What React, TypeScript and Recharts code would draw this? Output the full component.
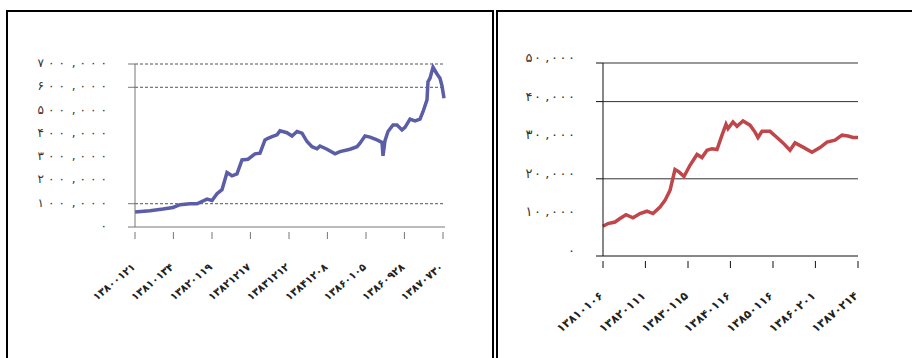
import React from "react";
import { LineChart, Line, XAxis, YAxis, ReferenceLine } from "recharts";

// left chart (blue)
const leftDays = [0, 75, 140, 190, 225, 275, 310, 360, 385, 410, 435, 460, 485, 510, 535, 565, 600, 625, 650, 665, 685, 710, 725, 760, 785, 810, 835, 860, 885, 910, 925, 960, 1000, 1025, 1075, 1110, 1125, 1150, 1175, 1210, 1235, 1240, 1250, 1265, 1290, 1310, 1335, 1350, 1375, 1400, 1425, 1440, 1460, 1465, 1475, 1490, 1510, 1525, 1535, 1545];
const leftValues = [64000, 70000, 77000, 84000, 96000, 100000, 100000, 120000, 114000, 143000, 160000, 234000, 220000, 228000, 288000, 291000, 314000, 317000, 374000, 381000, 388000, 396000, 413000, 405000, 391000, 410000, 403000, 367000, 345000, 336000, 348000, 334000, 314000, 324000, 334000, 345000, 360000, 391000, 386000, 374000, 363000, 306000, 371000, 410000, 438000, 438000, 417000, 428000, 463000, 456000, 463000, 495000, 546000, 624000, 639000, 686000, 657000, 639000, 606000, 553000];
const leftTickDays = [0, 192, 385, 577, 770, 962, 1155, 1347, 1540];
const leftTickLabels = ["۱۳۸۰۰۱۲۱", "۱۳۸۱۰۱۳۴", "۱۳۸۲۰۱۱۹", "۱۳۸۲۱۲۱۷", "۱۳۸۳۱۲۱۲", "۱۳۸۴۱۲۰۸", "۱۳۸۶۰۱۰۵", "۱۳۸۶۰۹۲۸", "۱۳۸۷۰۷۳۰"];
const leftYTicks = [0, 100000, 200000, 300000, 400000, 500000, 600000, 700000];
const leftGrid = [100000, 600000, 700000];

// right chart (red)
const rightDays = [0, 25, 60, 85, 115, 150, 185, 220, 250, 285, 310, 335, 360, 380, 405, 435, 470, 495, 520, 545, 570, 595, 615, 625, 650, 670, 700, 735, 760, 775, 795, 835, 870, 900, 935, 960, 1000, 1045, 1085, 1120, 1160, 1195, 1225, 1250, 1275];
const rightValues = [7700, 8400, 8800, 9700, 10700, 9900, 11000, 11600, 11000, 12700, 14400, 17000, 22400, 21800, 20600, 23500, 26300, 25500, 27400, 27800, 27600, 31300, 34100, 33000, 34700, 33600, 35000, 33900, 32100, 30700, 32300, 32300, 30700, 29300, 27400, 29300, 28200, 26900, 28100, 29500, 30000, 31300, 31100, 30700, 30700];
const rightTickDays = [0, 212, 425, 637, 850, 1062, 1275];
const rightTickLabels = ["۱۳۸۱۰۱۰۶", "۱۳۸۲۰۱۱۱", "۱۳۸۳۰۱۱۵", "۱۳۸۴۰۱۱۶", "۱۳۸۵۰۱۱۶", "۱۳۸۶۰۲۰۱", "۱۳۸۷۰۲۱۴"];
const rightYTicks = [0, 10000, 20000, 30000, 40000, 50000];
const rightGrid = [20000, 40000, 50000];

const FONT = "'DejaVu Sans', sans-serif";
const faDigits = "۰۱۲۳۴۵۶۷۸۹";

function faNum(n: number) {
  const s = n.toString().replace(/\B(?=(\d{3})+(?!\d))/g, ",");
  return s.replace(/\d/g, (d) => faDigits[Number(d)]);
}

// y labels are spread out in the original, so lay the characters out one by one
function makeYTick(grid: number[], color: string, fontSize: number, step: number, dy: number) {
  return (props: any) => {
    const { x, y, payload } = props;
    const v = payload.value;
    const showLine = v === 0 || grid.includes(v);
    const chars = faNum(v).split("");
    return (
      <g>
        {showLine && <line x1={x + 21} x2={x + 28} y1={y} y2={y} stroke={color} strokeWidth={1} />}
        {chars.map((c, k) => (
          <text key={k} x={x - (chars.length - 1 - k) * step} y={y} dy={dy} textAnchor="end"
            fontSize={fontSize} fill="#333" style={{ fontFamily: FONT }}>
            {c}
          </text>
        ))}
      </g>
    );
  };
}

function makeXTick(days: number[], labels: string[], color: string, fontSize: number) {
  return (props: any) => {
    const { x, y, payload } = props;
    const i = days.indexOf(payload.value);
    const top = y - 2;
    const px = x + 1;
    const py = top + 36;
    return (
      <g>
        <line x1={x} x2={x} y1={top} y2={top + 7} stroke={color} strokeWidth={1} />
        <text x={px} y={py} textAnchor="end" fontSize={fontSize} fontWeight="bold" fill="#222"
          transform={`rotate(-40, ${px}, ${py})`} style={{ fontFamily: FONT }}>
          {labels[i]}
        </text>
      </g>
    );
  };
}

export default function App() {
  const leftData = leftDays.map((d, i) => ({ day: d, value: leftValues[i] }));
  const rightData = rightDays.map((d, i) => ({ day: d, value: rightValues[i] }));

  return (
    <div style={{ position: "absolute", left: 0, top: 0, width: 912, height: 358, overflow: "hidden", background: "#fff", fontFamily: FONT }}>
      <div style={{ position: "absolute", left: 6, top: 10, width: 484, height: 400, border: "2px solid #000" }} />
      <div style={{ position: "absolute", left: 496, top: 10, width: 440, height: 400, border: "2px solid #000" }} />

      <div style={{ position: "absolute", left: 0, top: 0 }}>
        <LineChart width={500} height={358} data={leftData} margin={{ top: 64, right: 55, left: 35, bottom: 71 }}>
          {leftGrid.map((g) => (
            <ReferenceLine key={g} y={g} stroke="#555" strokeDasharray="3 2" />
          ))}
          <XAxis dataKey="day" type="number" domain={[0, 1550]} ticks={leftTickDays} interval={0}
            height={60} stroke="#777" tickLine={false} tickSize={7} tickMargin={0}
            tick={makeXTick(leftTickDays, leftTickLabels, "#777", 10.5)} />
          <YAxis type="number" domain={[0, 700000]} ticks={leftYTicks} interval={0} width={100}
            stroke="#777" tickLine={false} tickSize={7} tickMargin={21}
            tick={makeYTick(leftGrid, "#777", 12, 10.5, 3)} />
          <Line type="linear" dataKey="value" stroke="#5B5EA6" strokeWidth={3.5} dot={false} isAnimationActive={false} />
        </LineChart>
      </div>

      <div style={{ position: "absolute", left: 496, top: 0 }}>
        <LineChart width={416} height={358} data={rightData} margin={{ top: 63, right: 54, left: 7, bottom: 42 }}>
          {rightGrid.map((g) => (
            <ReferenceLine key={g} y={g} stroke="#333" />
          ))}
          <XAxis dataKey="day" type="number" domain={[0, 1275]} ticks={rightTickDays} interval={0}
            height={60} stroke="#111" tickLine={false} tickSize={7} tickMargin={0}
            tick={makeXTick(rightTickDays, rightTickLabels, "#111", 11.5)} />
          <YAxis type="number" domain={[0, 50000]} ticks={rightYTicks} interval={0} width={100}
            stroke="#111" tickLine={false} tickSize={7} tickMargin={21}
            tick={makeYTick(rightGrid, "#111", 13, 8.5, -1)} />
          <Line type="linear" dataKey="value" stroke="#C0464A" strokeWidth={3.5} dot={false} isAnimationActive={false} />
        </LineChart>
      </div>
    </div>
  );
}
